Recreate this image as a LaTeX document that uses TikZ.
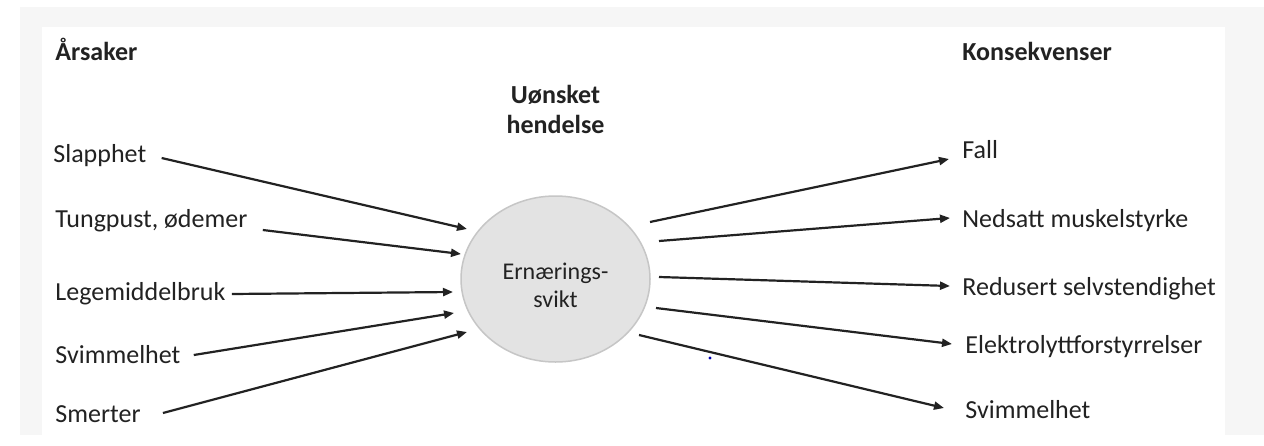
\documentclass[tikz,border=0pt]{standalone}
\usepackage{fontspec}
\setmainfont{Carlito}
\usetikzlibrary{arrows.meta, calc, shapes.geometric}
\definecolor{pagegray}{HTML}{F6F6F6}
\definecolor{bubble}{HTML}{E3E3E3}
\definecolor{bubbleline}{HTML}{C6C6C6}
\definecolor{ink}{HTML}{222222}

\begin{document}
\begin{tikzpicture}[x=0.5pt, y=-0.5pt,
    every node/.style={inner sep=0pt, text=ink},
    lbl/.style={anchor=base west, font=\fontsize{13}{15}\selectfont},
    head/.style={anchor=base west, font=\fontsize{13}{15}\selectfont\bfseries},
    arr/.style={-{Triangle[length=5pt, width=4pt]}, line width=1.1pt, draw=ink}]

    % ---- Parameters ----
    \def\Cx{555.5}   % event centre x
    \def\Cy{279}     % event centre y

    % ---- Frame ----
    \useasboundingbox (0,0) rectangle (1264,445);
    \fill[pagegray] (20,7) rectangle (1264,435);
    \fill[white] (42,27) rectangle (1225,445);

    % ---- Headings ----
    \node[head] (causes) at (55,60) {Årsaker};
    \node[head] (effects) at (962,60) {Konsekvenser};
    \node[anchor=base, align=center, font=\fontsize{13}{15}\selectfont\bfseries]
        (title) at (\Cx,133) {Uønsket\\hendelse};

    % ---- Event ----
    \node[ellipse, draw=bubbleline, line width=0.75pt, fill=bubble,
        minimum width=94.5pt, minimum height=83pt] (event) at (\Cx,\Cy) {};
    \node[align=center, font=\fontsize{12}{14}\selectfont]
        (eventtext) at ($(event.center)+(0,6)$) {Ernærings-\\svikt};

    % ---- Causes ----
    \node[lbl] (slapp) at (53,162) {Slapphet};
    \node[lbl] (tung) at (55,227) {Tungpust, ødemer};
    \node[lbl] (lege) at (55,300) {Legemiddelbruk};
    \node[lbl] (svim) at (55,363) {Svimmelhet};
    \node[lbl] (smert) at (55,422) {Smerter};

    % ---- Consequences ----
    \node[lbl] (fall) at (962,158) {Fall};
    \node[lbl] (nedsatt) at (962,227) {Nedsatt muskelstyrke};
    \node[lbl] (redus) at (962,295) {Redusert selvstendighet};
    \node[lbl] (elektro) at (965,353) {Elektrolyttforstyrrelser};
    \node[lbl] (svimB) at (965,418) {Svimmelhet};

    % ---- Arrow ends near the event ----
    \coordinate (in1) at ($(event.center)+(-88.5,-50)$);
    \coordinate (in2) at ($(event.center)+(-94.5,-25)$);
    \coordinate (in3) at ($(event.center)+(-102.5,13)$);
    \coordinate (in4) at ($(event.center)+(-101.5,34)$);
    \coordinate (in5) at ($(event.center)+(-88.5,53)$);
    \coordinate (out1) at ($(event.center)+(94.5,-57)$);
    \coordinate (out2) at ($(event.center)+(103.5,-38)$);
    \coordinate (out3) at ($(event.center)+(103.5,-2)$);
    \coordinate (out4) at ($(event.center)+(100.5,29)$);
    \coordinate (out5) at ($(event.center)+(83.5,56)$);

    % ---- Causes -> event ----
    \draw[arr] ($(slapp.base east)+(15,-4)$) -- (in1);
    \draw[arr] ($(tung.base east)+(15,3)$) -- (in2);
    \draw[arr] ($(lege.base east)+(6,-6)$) -- (in3);
    \draw[arr] ($(svim.base east)+(13,-8)$) -- (in4);
    \draw[arr] ($(smert.base east)+(22,-9)$) -- (in5);

    % ---- Event -> consequences ----
    \draw[arr] (out1) -- ($(fall.base west)+(-13,1)$);
    \draw[arr] (out2) -- ($(nedsatt.base west)+(-12,-9)$);
    \draw[arr] (out3) -- ($(redus.base west)+(-12,-9)$);
    \draw[arr] (out4) -- ($(elektro.base west)+(-13,-9)$);
    \draw[arr] (out5) -- ($(svimB.base west)+(-21,-10)$);

    % stray dot
    \fill[blue!70!black] (710,358) circle (0.8pt);

\end{tikzpicture}
\end{document}
